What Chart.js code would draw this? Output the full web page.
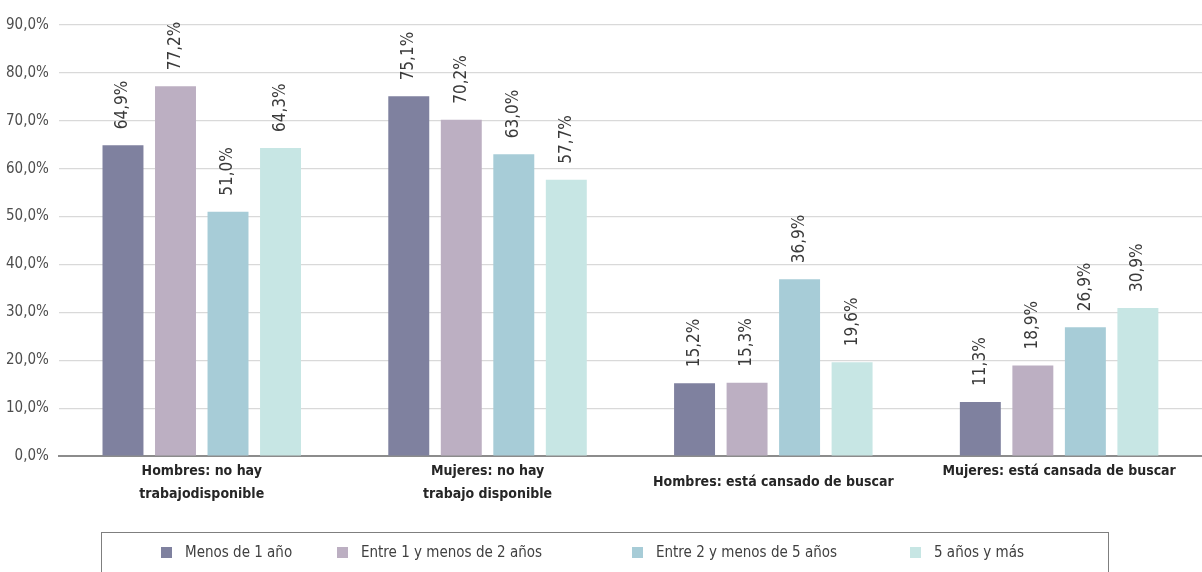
<!DOCTYPE html>
<html lang="es">

<head>
  <meta charset="UTF-8">
  <title>Razones por duración</title>
  <style>
    * {
      margin: 0;
      padding: 0;
      box-sizing: border-box;
    }

    body {
      background: #fff;
      overflow: hidden;
    }

    .chart-container {
      position: relative;
      width: 1202px;
      height: 572px;
    }

    .legend-box {
      position: absolute;
      left: 101px;
      top: 532px;
      width: 1008px;
      height: 60px;
      border: 1px solid #7f7f7f;
      display: flex;
      align-items: flex-start;
      padding: 10px 0 0 59px;
      font-family: 'Liberation Sans Narrow', 'DejaVu Sans Condensed', 'Roboto', sans-serif;
      font-size: 15px;
      color: #404040;
    }

    .legend-item {
      display: flex;
      align-items: center;
    }

    .legend-item span {
      display: inline-block;
      width: 11px;
      height: 11px;
      margin-right: 13px;
    }
  </style>
</head>

<body>
  <div class="chart-container">
    <canvas id="chart"></canvas>
    <div class="legend-box" id="legend"></div>
  </div>

  <script src="https://cdn.jsdelivr.net/npm/chart.js@4.4.1/dist/chart.umd.min.js"></script>
  <script>
    const FONT = "'Liberation Sans Narrow', 'DejaVu Sans Condensed', 'Roboto', sans-serif";

    // categories (last one gets an empty 2nd line so it sits at the top like the original)
    const categories = [
      ['Hombres: no hay', 'trabajodisponible'],
      ['Mujeres: no hay', 'trabajo disponible'],
      'Hombres: está cansado de buscar',
      ['Mujeres: está cansada de buscar', '']
    ];

    const seriesNames = ['Menos de 1 año', 'Entre 1 y menos de 2 años', 'Entre 2 y menos de 5 años', '5 años y más'];
    const seriesColors = ['#7f819f', '#bcafc2', '#a7ccd7', '#c7e6e4'];

    const menos1 = [64.9, 75.1, 15.2, 11.3];
    const entre1y2 = [77.2, 70.2, 15.3, 18.9];
    const entre2y5 = [51.0, 63.0, 36.9, 26.9];
    const cincoYMas = [64.3, 57.7, 19.6, 30.9];

    const yTicks = [0, 10, 20, 30, 40, 50, 60, 70, 80, 90];

    // legend column widths, like the original's uneven spacing
    const legendWidths = [176, 295, 278, 120];

    const fmt = v => v.toFixed(1).replace('.', ',') + '%';

    // rotated value labels above each bar
    const valueLabels = {
      id: 'valueLabels',
      afterDatasetsDraw(chart) {
        const ctx = chart.ctx;
        ctx.save();
        ctx.fillStyle = '#3a3a3a';
        ctx.font = '17px ' + FONT;
        ctx.textAlign = 'left';
        ctx.textBaseline = 'middle';
        chart.data.datasets.forEach((ds, i) => {
          chart.getDatasetMeta(i).data.forEach((bar, j) => {
            ctx.save();
            ctx.translate(bar.x, bar.y - 16);
            ctx.rotate(-Math.PI / 2);
            ctx.fillText(fmt(ds.data[j]), 0, 0);
            ctx.restore();
          });
        });
        ctx.restore();
      }
    };

    // category names under the axis, lines centred in a two-line slot
    const categoryLabels = {
      id: 'categoryLabels',
      afterDraw(chart) {
        const ctx = chart.ctx;
        const xScale = chart.scales.x;
        const lineH = 23;
        const maxLines = 2;
        ctx.save();
        ctx.fillStyle = '#262626';
        ctx.font = 'bold 14px ' + FONT;
        ctx.textAlign = 'center';
        ctx.textBaseline = 'middle';
        chart.data.labels.forEach((lab, i) => {
          const lines = Array.isArray(lab) ? lab : [lab];
          const x = xScale.getPixelForValue(i);
          const y0 = chart.chartArea.bottom + 15 + (maxLines - lines.length) * lineH / 2;
          lines.forEach((line, k) => ctx.fillText(line, x, y0 + k * lineH));
        });
        ctx.restore();
      }
    };

    new Chart(document.getElementById('chart'), {
      type: 'bar',
      data: {
        labels: categories,
        datasets: [menos1, entre1y2, entre2y5, cincoYMas].map((d, i) => ({
          label: seriesNames[i],
          data: d,
          backgroundColor: seriesColors[i],
          categoryPercentage: 0.735,
          barPercentage: 0.78
        }))
      },
      options: {
        responsive: true,
        maintainAspectRatio: false,
        animation: false,
        layout: {padding: {top: 25, left: -4, right: 0, bottom: 116}},
        plugins: {
          tooltip: {enabled: false},
          legend: {display: false}
        },
        scales: {
          x: {
            grid: {display: false, drawTicks: false},
            border: {color: '#8c8c8c', width: 2},
            ticks: {display: false}
          },
          y: {
            min: 0,
            max: 90,
            afterBuildTicks(scale) {
              scale.ticks = yTicks.map(v => ({value: v}));
            },
            grid: {color: '#d9d9d9', drawTicks: false, lineWidth: 1.2},
            border: {display: false},
            ticks: {
              color: '#4d4d4d',
              padding: 10,
              font: {family: FONT, size: 15},
              callback: v => fmt(v)
            }
          }
        }
      },
      plugins: [valueLabels, categoryLabels]
    });

    // html legend in a frame under the chart
    const legendEl = document.getElementById('legend');
    seriesNames.forEach((name, i) => {
      const item = document.createElement('div');
      item.className = 'legend-item';
      item.style.width = legendWidths[i] + 'px';
      const sw = document.createElement('span');
      sw.style.background = seriesColors[i];
      item.appendChild(sw);
      item.appendChild(document.createTextNode(name));
      legendEl.appendChild(item);
    });
  </script>
</body>

</html>
